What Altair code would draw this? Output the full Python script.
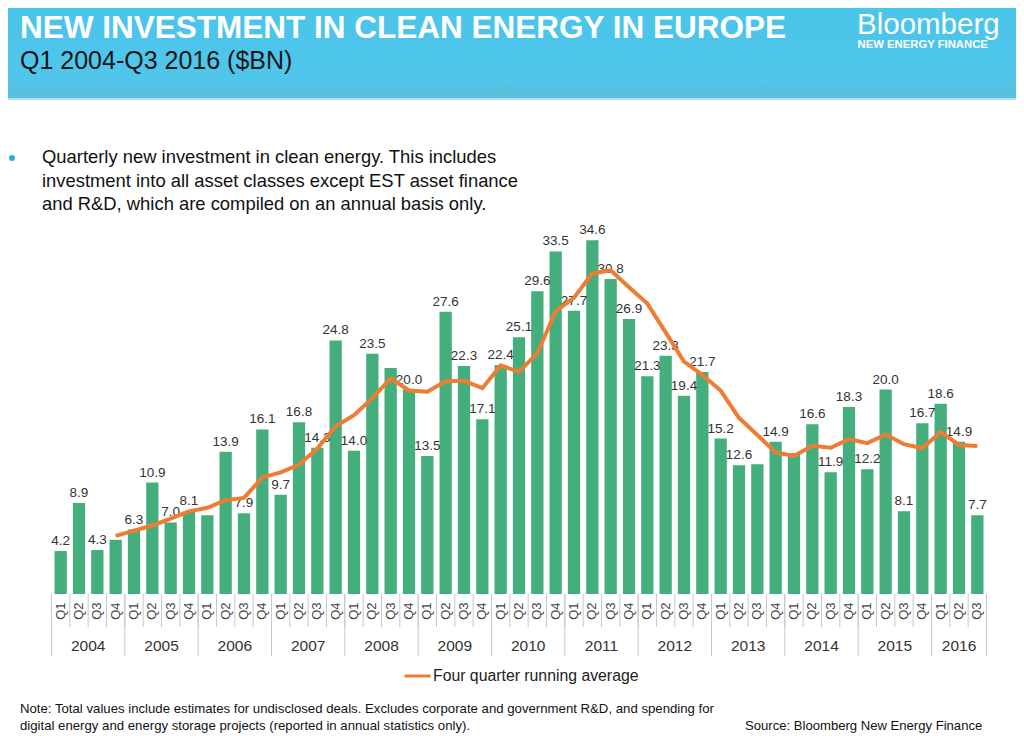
import altair as alt
import pandas as pd

# ---------------- data ----------------
year_list = [2004, 2005, 2006, 2007, 2008, 2009, 2010, 2011, 2012, 2013, 2014, 2015, 2016]
quarter_names = ["Q1", "Q2", "Q3", "Q4"]

investment = [
    4.2, 8.9, 4.3, 5.3,      # 2004
    6.3, 10.9, 7.0, 8.1,     # 2005
    7.7, 13.9, 7.9, 16.1,    # 2006
    9.7, 16.8, 14.3, 24.8,   # 2007
    14.0, 23.5, 22.1, 20.0,  # 2008
    13.5, 27.6, 22.3, 17.1,  # 2009
    22.4, 25.1, 29.6, 33.5,  # 2010
    27.7, 34.6, 30.8, 26.9,  # 2011
    21.3, 23.3, 19.4, 21.7,  # 2012
    15.2, 12.6, 12.7, 14.9,  # 2013
    13.8, 16.6, 11.9, 18.3,  # 2014
    12.2, 20.0, 8.1, 16.7,   # 2015
    18.6, 14.9, 7.7,         # 2016
]

running_avg = [
    None, None, None, 5.68,
    6.20, 6.70, 7.38, 8.08,
    8.43, 9.18, 9.40, 11.40,
    11.90, 12.63, 14.23, 16.40,
    17.48, 19.15, 21.10, 19.90,
    19.78, 20.80, 20.85, 20.13,
    22.35, 21.73, 23.55, 27.65,
    28.98, 31.35, 31.65, 30.00,
    28.40, 25.58, 22.73, 21.43,
    19.90, 17.23, 15.55, 13.85,
    13.50, 14.50, 14.30, 15.15,
    14.75, 15.60, 14.65, 14.25,
    15.85, 14.58, 14.48,
]

unlabelled = ["2004 Q4", "2006 Q1", "2008 Q3", "2013 Q3", "2014 Q1"]

keys, yrs, qs = [], [], []
for y in year_list:
    for q in quarter_names:
        if len(keys) < len(investment):
            keys.append(f"{y} {q}")
            yrs.append(y)
            qs.append(q)

df = pd.DataFrame({"key": keys, "year": yrs, "q": qs,
                   "value": investment, "avg": running_avg})
df["show"] = ~df["key"].isin(unlabelled)

# ---------------- styling ----------------
W, H = 935, 409
GREEN = "#45AE7D"
ORANGE = "#EE7C33"
FONT = "Liberation Sans"
HALF_GAP = 0.165 * W / 51.0

xscale = alt.Scale(paddingInner=0.33, paddingOuter=0.165)
X = lambda **kw: alt.X("key:N", sort=keys, scale=xscale, **kw)

one = pd.DataFrame({"a": [0]})

def label(text, x, y, size, color="#111", weight="normal", align="left", font=FONT):
    return alt.Chart(one).mark_text(
        text=text, align=align, baseline="alphabetic", fontSize=size,
        fontWeight=weight, color=color, font=font
    ).encode(x=alt.value(x), y=alt.value(y))

# banner
banner = alt.Chart(one).mark_rect(
    color=alt.Gradient(gradient="linear", x1=0, x2=0, y1=0, y2=1,
                       stops=[alt.GradientStop(color="#4AC4EB", offset=0),
                              alt.GradientStop(color="#50C6EA", offset=0.84),
                              alt.GradientStop(color="#58C0E0", offset=0.88),
                              alt.GradientStop(color="#5ABFDE", offset=1)])
).encode(x=alt.value(-60), x2=alt.value(1000), y=alt.value(-190), y2=alt.value(-87))
banner_line = alt.Chart(one).mark_rule(color="#A9E3F3", strokeWidth=2).encode(
    x=alt.value(-60), x2=alt.value(1000), y=alt.value(-86))

title = label("NEW INVESTMENT IN CLEAN ENERGY IN EUROPE", -31.5, -147, 31.5, "#FFFFFF", "bold")
subtitle = label("Q1 2004-Q3 2016 ($BN)", -31.5, -116, 25, "#161616")
logo = label("Bloomberg", 805.5, -151, 29.5, "#FFFFFF", "normal")
logo2 = label("NEW ENERGY FINANCE", 806, -137, 11.3, "#FFFFFF", "bold")

bullet_dot = alt.Chart(one).mark_point(filled=True, shape="circle", size=35, color="#2AA8E0", opacity=1).encode(
    x=alt.value(-39.5), y=alt.value(-27))
b1 = label("Quarterly new investment in clean energy. This includes", -9.5, -22, 18.4)
b2 = label("investment into all asset classes except EST asset finance", -9.5, 2, 18.4)
b3 = label("and R&D, which are compiled on an annual basis only.", -9.5, 25, 18.4)

# bars
bars = alt.Chart(df).mark_bar(color=GREEN).encode(
    x=X(axis=alt.Axis(title=None, labelAngle=270, labelExpr="split(datum.label, ' ')[1]",
                      labelFontSize=13, labelColor="#444", labelFont=FONT, labelPadding=8,
                      ticks=False, domain=False, labelBaseline="middle")),
    y=alt.Y("value:Q", scale=alt.Scale(domain=[0, 40], nice=False), axis=None),
)

bar_labels = alt.Chart(df).transform_filter("datum.show").mark_text(
    baseline="bottom", dy=-3, fontSize=13.5, color="#333", font=FONT
).encode(x=X(), y="value:Q", text=alt.Text("value:Q", format=".1f"))

line = alt.Chart(df).transform_filter("isValid(datum.avg)").mark_line(
    color=ORANGE, strokeWidth=4
).encode(x=X(), y="avg:Q")

# axis grid boxes
q_rules = alt.Chart(df).mark_rule(color="#C8C8C8", strokeWidth=1, xOffset=-HALF_GAP).encode(
    x=X(bandPosition=0), y=alt.value(H), y2=alt.value(H + 33))
y_rules = alt.Chart(df).transform_filter("datum.q == 'Q1'").mark_rule(
    color="#C8C8C8", strokeWidth=1, xOffset=-HALF_GAP).encode(
    x=X(bandPosition=0), y=alt.value(H), y2=alt.value(H + 62))
end_rule = alt.Chart(df).transform_filter(f"datum.key == '{keys[-1]}'").mark_rule(
    color="#C8C8C8", strokeWidth=1, xOffset=HALF_GAP).encode(
    x=X(bandPosition=1), y=alt.value(H), y2=alt.value(H + 62))

year_full = alt.Chart(df).transform_filter("datum.q == 'Q2' && datum.year < 2016").mark_text(
    fontSize=15.5, color="#333", font=FONT, baseline="alphabetic", xOffset=HALF_GAP
).encode(x=X(bandPosition=1), y=alt.value(466), text="year:N")
year_last = alt.Chart(df).transform_filter("datum.q == 'Q2' && datum.year == 2016").mark_text(
    fontSize=15.5, color="#333", font=FONT, baseline="alphabetic"
).encode(x=X(), y=alt.value(466), text="year:N")

# legend
leg_line = alt.Chart(one).mark_rule(color=ORANGE, strokeWidth=3).encode(
    x=alt.value(353), x2=alt.value(379), y=alt.value(491))
leg_text = label("Four quarter running average", 381.5, 496, 15.8, "#222")

# footnotes
n1 = label("Note: Total values include estimates for undisclosed deals. Excludes corporate and government R&D, and spending for",
           -31.5, 528, 13.2)
n2 = label("digital energy and energy storage projects (reported in annual statistics only).", -31.5, 545, 13.2)
src = label("Source: Bloomberg New Energy Finance", 693.5, 545, 13.1)

chart = alt.layer(
    banner, banner_line, title, subtitle, logo, logo2,
    bullet_dot, b1, b2, b3,
    bars, q_rules, y_rules, end_rule, bar_labels, line,
    year_full, year_last, leg_line, leg_text, n1, n2, src,
).properties(
    width=W, height=H,
    autosize=alt.AutoSizeParams(type="none"),
    padding={"left": 43.5, "top": 177, "right": 29, "bottom": 140},
    background="#FFFFFF",
).configure_view(stroke=None)

chart.save("out.html", embed_options={"renderer": "svg", "actions": False})
